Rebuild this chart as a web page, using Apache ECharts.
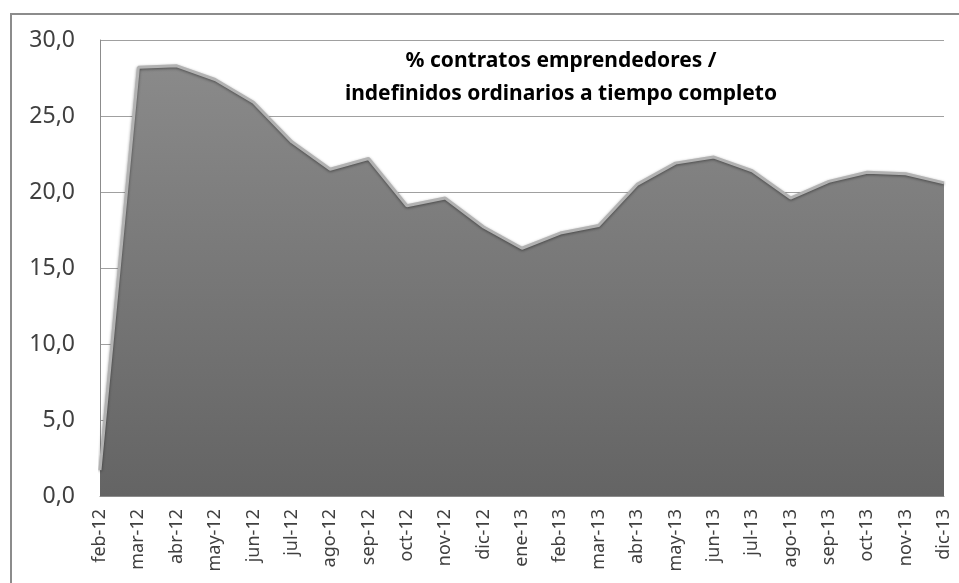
<!DOCTYPE html>
<html>
<head>
<meta charset="utf-8">
<script src="https://cdn.jsdelivr.net/npm/echarts@6/dist/echarts.min.js"></script>
<style>
  html, body { margin: 0; padding: 0; background: #fff; }
  #chart { width: 959px; height: 583px; }
</style>
</head>
<body>
<div id="chart"></div>
<script>
// data
const months = ["feb-12", "mar-12", "abr-12", "may-12", "jun-12", "jul-12", "ago-12", "sep-12", "oct-12", "nov-12", "dic-12",
  "ene-13", "feb-13", "mar-13", "abr-13", "may-13", "jun-13", "jul-13", "ago-13", "sep-13", "oct-13", "nov-13", "dic-13"]
const ratio = [1.7, 28.2, 28.3, 27.4, 25.9, 23.3, 21.5, 22.2, 19.1, 19.6, 17.7,
  16.3, 17.3, 17.8, 20.5, 21.9, 22.3, 21.4, 19.6, 20.7, 21.3, 21.2, 20.6]
const yMin = 0
const yMax = 30
const yStep = 5
const titleLines = ["% contratos emprendedores /", "indefinidos ordinarios a tiempo completo"]

const chart = echarts.init(document.getElementById("chart"), null, { renderer: "canvas" })

const option = {
  animation: false,
  backgroundColor: "#fff",
  textStyle: { fontFamily: "Noto Sans" },
  title: {
    text: titleLines.join("\n"),
    left: 556,
    top: 40,
    textAlign: "center",
    textStyle: {
      fontFamily: "Noto Sans",
      fontWeight: "bold",
      fontSize: 21,
      lineHeight: 33,
      color: "#000",
    },
  },
  // outer frame of the chart (cropped on the right and bottom)
  graphic: [
    {
      type: "rect",
      shape: { x: 11, y: 14, width: 1000, height: 700 },
      style: { fill: null, stroke: "#8c8c8c", lineWidth: 2 },
      silent: true,
    },
  ],
  grid: { left: 100, right: 15, top: 40, bottom: 87 },
  xAxis: {
    type: "category",
    data: months,
    boundaryGap: false,
    axisLine: { show: true, lineStyle: { color: "#8c8c8c", width: 1 } },
    axisTick: { show: false },
    axisLabel: {
      rotate: 90,
      margin: 13,
      fontSize: 18,
      color: "#404040",
      interval: 0,
    },
  },
  yAxis: {
    type: "value",
    min: yMin,
    max: yMax,
    interval: yStep,
    axisLine: { show: true, lineStyle: { color: "#8c8c8c", width: 1 } },
    axisTick: { show: false },
    splitLine: { show: true, lineStyle: { color: "#a0a0a0", width: 1 } },
    axisLabel: {
      margin: 25,
      fontSize: 23,
      color: "#404040",
      formatter: (v) => v.toFixed(1).replace(".", ","),
    },
  },
  series: [
    {
      type: "line",
      data: ratio,
      symbol: "none",
      smooth: false,
      lineStyle: {
        color: "#b2b2b2",
        width: 3,
        shadowColor: "rgba(0,0,0,0.45)",
        shadowBlur: 3,
        shadowOffsetY: 1,
      },
      areaStyle: {
        opacity: 1,
        color: new echarts.graphic.LinearGradient(0, 0, 0, 1, [
          { offset: 0, color: "#8a8a8a" },
          { offset: 1, color: "#646464" },
        ]),
      },
    },
  ],
}

chart.setOption(option)
</script>
</body>
</html>
